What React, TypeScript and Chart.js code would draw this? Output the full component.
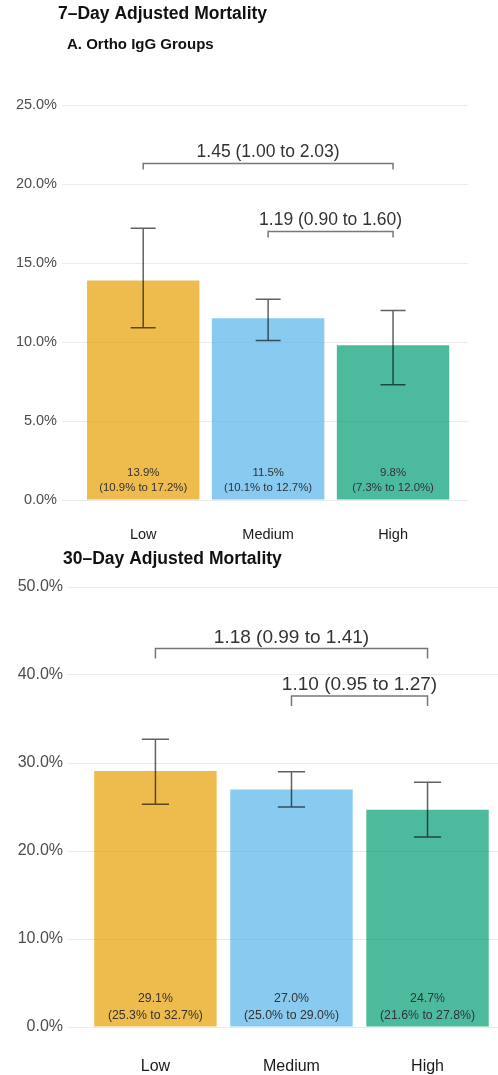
import React, { useEffect, useRef } from "react";
import { Chart, registerables } from "chart.js";
Chart.register(...registerables);

// ---------- data ----------
const categories = ["Low", "Medium", "High"];

const day7Mean = [13.9, 11.5, 9.8];
const day7Lower = [10.9, 10.1, 7.3];
const day7Upper = [17.2, 12.7, 12.0];
const day7BracketFrom = [1, 2];
const day7BracketTo = [3, 3];
const day7BracketLevel = [21.3, 17.0];
const day7BracketLabels = ["1.45 (1.00 to 2.03)", "1.19 (0.90 to 1.60)"];

const day30Mean = [29.1, 27.0, 24.7];
const day30Lower = [25.3, 25.0, 21.6];
const day30Upper = [32.7, 29.0, 27.8];
const day30BracketFrom = [1, 2];
const day30BracketTo = [3, 3];
const day30BracketLevel = [43.0, 37.6];
const day30BracketLabels = ["1.18 (0.99 to 1.41)", "1.10 (0.95 to 1.27)"];

const barColors = ["rgba(230,159,0,0.7)", "rgba(86,180,233,0.7)", "rgba(0,158,115,0.7)"];

const FONT = '"Liberation Sans", Arial, Helvetica, sans-serif';

type Panel = {
  width: number;
  height: number;
  mean: number[];
  lower: number[];
  upper: number[];
  bFrom: number[];
  bTo: number[];
  bLevel: number[];
  bLabels: string[];
  yMax: number;
  yStep: number;
  xMin: number;
  xMax: number;
  padTop: number;
  padRight: number;
  yWidth: number;
  xHeight: number;
  yTickSize: number;
  yTickPad: number;
  xTickSize: number;
  xTickPad: number;
  lblSize: number;
  lblOff1: number;
  lblOff2: number;
  brSize: number;
  brTip: number;
  brTextOff: number;
  titles: { text: string; x: number; y: number; size: number }[];
};

function buildChart(canvas: HTMLCanvasElement, p: Panel) {
  const overlay = {
    id: "overlay",
    afterDatasetsDraw(chart: any) {
      const { ctx } = chart;
      const x = chart.scales.x;
      const y = chart.scales.y;
      ctx.save();
      // error bars
      const half = x.getPixelForValue(1.1) - x.getPixelForValue(1);
      ctx.strokeStyle = "rgba(0,0,0,0.62)";
      ctx.lineWidth = 1.5;
      p.mean.forEach((_, i) => {
        const cx = x.getPixelForValue(i + 1);
        const yl = y.getPixelForValue(p.lower[i]);
        const yu = y.getPixelForValue(p.upper[i]);
        ctx.beginPath();
        ctx.moveTo(cx, yl);
        ctx.lineTo(cx, yu);
        ctx.moveTo(cx - half, yl);
        ctx.lineTo(cx + half, yl);
        ctx.moveTo(cx - half, yu);
        ctx.lineTo(cx + half, yu);
        ctx.stroke();
      });
      // bar labels
      const y0 = y.getPixelForValue(0);
      ctx.fillStyle = "#333333";
      ctx.font = `${p.lblSize}px ${FONT}`;
      ctx.textAlign = "center";
      ctx.textBaseline = "middle";
      p.mean.forEach((m, i) => {
        const cx = x.getPixelForValue(i + 1);
        ctx.fillText(`${m.toFixed(1)}%`, cx, y0 - p.lblOff1);
        ctx.fillText(`(${p.lower[i].toFixed(1)}% to ${p.upper[i].toFixed(1)}%)`, cx, y0 - p.lblOff2);
      });
      // brackets
      ctx.strokeStyle = "#777777";
      ctx.lineWidth = 1.5;
      ctx.font = `${p.brSize}px ${FONT}`;
      p.bLevel.forEach((lv, i) => {
        const x1 = x.getPixelForValue(p.bFrom[i]);
        const x2 = x.getPixelForValue(p.bTo[i]);
        const yy = y.getPixelForValue(lv);
        ctx.beginPath();
        ctx.moveTo(x1, yy + p.brTip);
        ctx.lineTo(x1, yy);
        ctx.lineTo(x2, yy);
        ctx.lineTo(x2, yy + p.brTip);
        ctx.stroke();
        ctx.fillStyle = "#333333";
        ctx.fillText(p.bLabels[i], (x1 + x2) / 2, yy - p.brTextOff);
      });
      ctx.restore();
    },
    afterDraw(chart: any) {
      const { ctx } = chart;
      ctx.save();
      ctx.fillStyle = "#111111";
      ctx.textAlign = "left";
      ctx.textBaseline = "middle";
      p.titles.forEach((t) => {
        ctx.font = `bold ${t.size}px ${FONT}`;
        ctx.fillText(t.text, t.x, t.y);
      });
      ctx.restore();
    },
  };

  return new Chart(canvas, {
    type: "bar",
    data: {
      datasets: [
        {
          data: p.mean.map((v, i) => ({ x: i + 1, y: v })),
          backgroundColor: barColors,
          borderWidth: 0,
          barPercentage: 0.9,
          categoryPercentage: 1.0,
        },
      ],
    },
    options: {
      animation: false,
      responsive: false,
      devicePixelRatio: 1,
      layout: { padding: { top: p.padTop, right: p.padRight, left: 0, bottom: 0 } },
      plugins: { legend: { display: false }, tooltip: { enabled: false }, title: { display: false } },
      scales: {
        x: {
          type: "linear",
          offset: false,
          min: p.xMin,
          max: p.xMax,
          grid: { display: false, drawTicks: false },
          border: { display: false },
          afterBuildTicks: (s: any) => {
            s.ticks = categories.map((_, i) => ({ value: i + 1 }));
          },
          afterFit: (s: any) => {
            s.height = p.xHeight;
          },
          ticks: {
            autoSkip: false,
            maxRotation: 0,
            padding: p.xTickPad,
            color: "#1a1a1a",
            font: { family: FONT, size: p.xTickSize },
            callback: (v: any) => categories[Math.round(v) - 1] ?? "",
          },
        },
        y: {
          min: 0,
          max: p.yMax,
          grid: { color: "#ebebeb", lineWidth: 1, drawTicks: false },
          border: { display: false },
          afterFit: (s: any) => {
            s.width = p.yWidth;
          },
          ticks: {
            stepSize: p.yStep,
            padding: p.yTickPad,
            color: "#4d4d4d",
            font: { family: FONT, size: p.yTickSize },
            callback: (v: any) => `${Number(v).toFixed(1)}%`,
          },
        },
      },
    },
    plugins: [overlay],
  } as any);
}

const topPanel: Panel = {
  width: 498,
  height: 548,
  mean: day7Mean,
  lower: day7Lower,
  upper: day7Upper,
  bFrom: day7BracketFrom,
  bTo: day7BracketTo,
  bLevel: day7BracketLevel,
  bLabels: day7BracketLabels,
  yMax: 25,
  yStep: 5,
  xMin: 0.35,
  xMax: 3.6,
  padTop: 105,
  padRight: 30,
  yWidth: 62,
  xHeight: 48,
  yTickSize: 14.5,
  yTickPad: 5,
  xTickSize: 14.5,
  xTickPad: 26,
  lblSize: 11.4,
  lblOff1: 27,
  lblOff2: 12,
  brSize: 17.5,
  brTip: 6,
  brTextOff: 11,
  titles: [
    { text: "7–Day Adjusted Mortality", x: 58, y: 14, size: 17.5 },
    { text: "A. Ortho IgG Groups", x: 67, y: 45, size: 15 },
  ],
};

const bottomPanel: Panel = {
  width: 501,
  height: 527,
  mean: day30Mean,
  lower: day30Lower,
  upper: day30Upper,
  bFrom: day30BracketFrom,
  bTo: day30BracketTo,
  bLevel: day30BracketLevel,
  bLabels: day30BracketLabels,
  yMax: 50,
  yStep: 10,
  xMin: 0.35,
  xMax: 3.54,
  padTop: 39,
  padRight: 0,
  yWidth: 67,
  xHeight: 48,
  yTickSize: 16,
  yTickPad: 4,
  xTickSize: 16,
  xTickPad: 30,
  lblSize: 12.3,
  lblOff1: 28,
  lblOff2: 11,
  brSize: 19,
  brTip: 10,
  brTextOff: 11,
  titles: [{ text: "30–Day Adjusted Mortality", x: 63, y: 11, size: 17.5 }],
};

function ChartCanvas({ panel, top }: { panel: Panel; top: number }) {
  const ref = useRef<HTMLCanvasElement>(null);
  useEffect(() => {
    if (!ref.current) return;
    const c = buildChart(ref.current, panel);
    return () => c.destroy();
  }, [panel]);
  return (
    <canvas
      ref={ref}
      width={panel.width}
      height={panel.height}
      style={{ position: "absolute", left: 0, top, width: panel.width, height: panel.height, display: "block" }}
    />
  );
}

export default function App() {
  return (
    <div
      style={{
        position: "fixed",
        left: 0,
        top: 0,
        width: 498,
        height: 1075,
        overflow: "hidden",
        background: "#ffffff",
      }}
    >
      <ChartCanvas panel={topPanel} top={0} />
      <ChartCanvas panel={bottomPanel} top={548} />
    </div>
  );
}
